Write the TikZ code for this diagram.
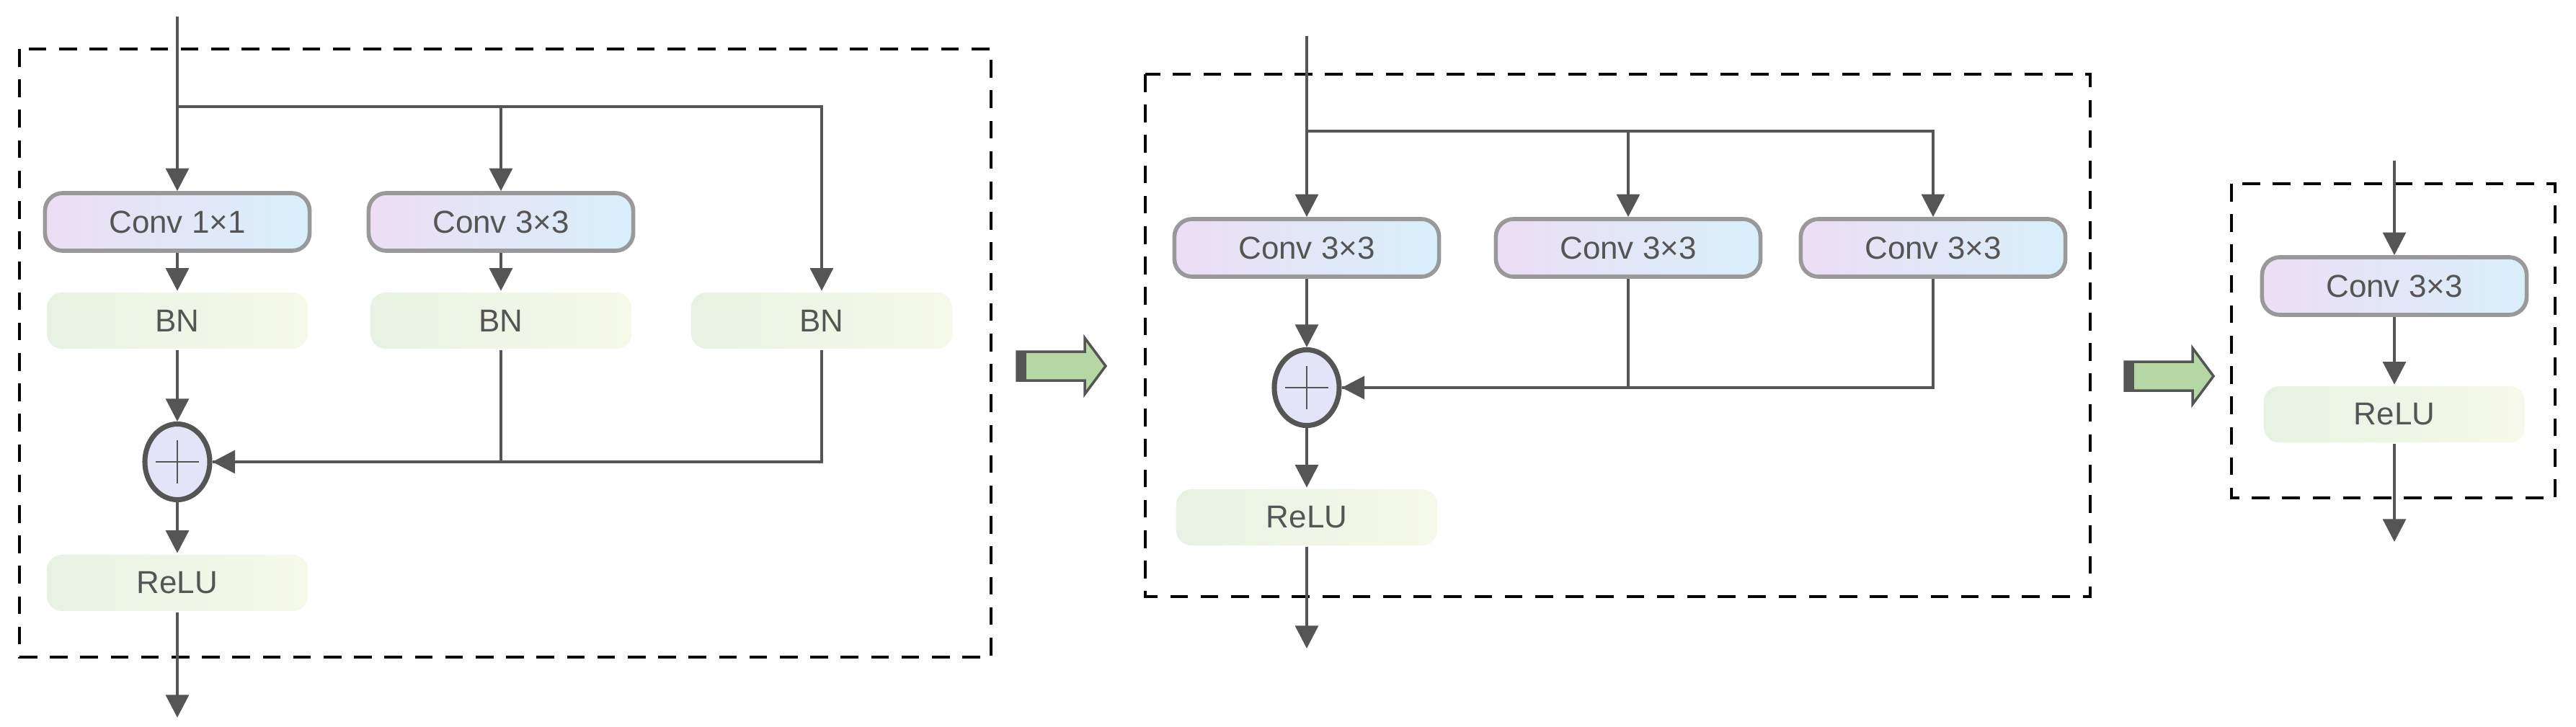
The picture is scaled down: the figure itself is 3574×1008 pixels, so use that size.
\documentclass[tikz,border=0pt]{standalone}
\usepackage{fontspec}
\setmainfont{Liberation Sans}
\usetikzlibrary{positioning,arrows.meta,shapes.geometric}
\definecolor{linec}{RGB}{85,85,85}
\definecolor{convl}{RGB}{236,222,245}
\definecolor{convr}{RGB}{216,239,250}
\definecolor{bnl}{RGB}{232,242,226}
\definecolor{bnr}{RGB}{246,249,234}
\definecolor{sumc}{RGB}{228,228,248}
\definecolor{greenarr}{RGB}{180,215,164}

\begin{document}
\begin{tikzpicture}[x=0.01cm, y=-0.01cm, line width=1.3pt, draw=linec,
		font=\fontsize{12.5}{14}\selectfont, text=linec]
		\tikzstyle{conv}=[rectangle, rounded corners=7pt, draw=black!40, line width=1.6pt,
		left color=convl, right color=convr, minimum width=3.67cm, minimum height=0.8cm, inner sep=0pt]
		\tikzstyle{bn}=[rectangle, rounded corners=6pt, left color=bnl, right color=bnr,
		minimum width=3.62cm, minimum height=0.78cm, inner sep=0pt]
		\tikzstyle{sum}=[ellipse, draw=linec, line width=2pt, fill=sumc, minimum width=0.9cm,
		minimum height=1.05cm, inner sep=0pt]
		\tikzstyle{flow}=[-{Triangle[length=9pt, width=9pt]}]
		\tikzstyle{block}=[draw=black, line width=1.2pt, dash pattern=on 7pt off 5pt]
		\tikzstyle{stepar}=[draw=linec, line width=1pt, fill=greenarr]
		\newcommand{\plus}[1]{\draw[line width=0.8pt] ([yshift=-0.3cm]#1.center) -- ([yshift=0.3cm]#1.center)
			([xshift=-0.3cm]#1.center) -- ([xshift=0.3cm]#1.center);}

		\useasboundingbox (0,0) rectangle (3574,1008);

		% First block
		\draw[block] (27,68) rectangle (1375,912);
		\coordinate (in1) at (246,23);
		\coordinate (br1) at (246,148);
		\node[conv](C11) at (246,308) {Conv 1×1};
		\node[conv](C12) at (695,308) {Conv 3×3};
		\node[bn](B11) at (246,445) {BN};
		\node[bn](B12) at (695,445) {BN};
		\node[bn](B13) at (1140,445) {BN};
		\node[sum](S1) at (246,641) {};
		\plus{S1}
		\node[bn](R1) at (246,809) {ReLU};
		\coordinate (out1) at (246,996);

		\draw[flow] (in1) -- (C11);
		\draw[flow] (br1) -| (C12);
		\draw[flow] (br1) -| (B13);
		\draw[flow] (C11) -- (B11);
		\draw[flow] (C12) -- (B12);
		\draw[flow] (B11) -- (S1);
		\draw (B12) |- (S1);
		\draw[flow] (B13) |- (S1);
		\draw[flow] (S1) -- (R1);
		\draw[flow] (R1) -- (out1);

		% Step arrows
		\draw[stepar] (1411,488) -- (1505,488) -- (1505,469) -- (1534,508) -- (1505,547)
			-- (1505,528) -- (1411,528) -- cycle;
		\fill[linec] (1411,488) rectangle (1424,528);
		\draw[stepar] (2948,502) -- (3042,502) -- (3042,483) -- (3071,522) -- (3042,561)
			-- (3042,542) -- (2948,542) -- cycle;
		\fill[linec] (2948,502) rectangle (2961,542);

		% Second block
		\draw[block] (1589,103) rectangle (2900,828);
		\coordinate (in2) at (1813,50);
		\coordinate (br2) at (1813,182);
		\node[conv](C21) at (1813,344) {Conv 3×3};
		\node[conv](C22) at (2259,344) {Conv 3×3};
		\node[conv](C23) at (2682,344) {Conv 3×3};
		\node[sum](S2) at (1813,538) {};
		\plus{S2}
		\node[bn](R2) at (1813,718) {ReLU};
		\coordinate (out2) at (1813,900);

		\draw[flow] (in2) -- (C21);
		\draw[flow] (br2) -| (C22);
		\draw[flow] (br2) -| (C23);
		\draw[flow] (C21) -- (S2);
		\draw (C22) |- (S2);
		\draw[flow] (C23) |- (S2);
		\draw[flow] (S2) -- (R2);
		\draw[flow] (R2) -- (out2);

		% Third block
		\draw[block] (3096,255) rectangle (3545,691);
		\coordinate (in3) at (3322,223);
		\node[conv](C31) at (3322,397) {Conv 3×3};
		\node[bn](R3) at (3322,575) {ReLU};
		\coordinate (out3) at (3322,752);

		\draw[flow] (in3) -- (C31);
		\draw[flow] (C31) -- (R3);
		\draw[flow] (R3) -- (out3);
\end{tikzpicture}
\end{document}
